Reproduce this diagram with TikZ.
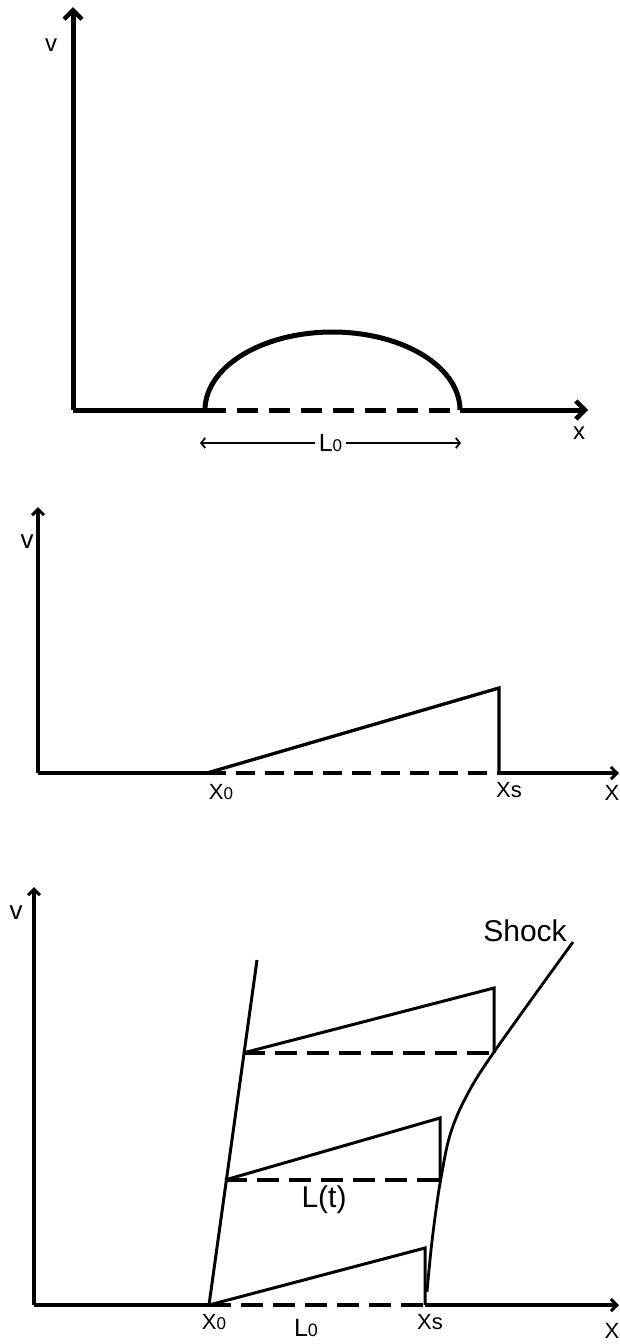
\documentclass[tikz,border=0pt]{standalone}
\usepackage{fontspec}
\setmainfont{Liberation Sans}
\usetikzlibrary{arrows.meta}

% smaller digit or letter set on the baseline after a capital
\newcommand{\lowidx}[1]{{\fontsize{17}{17}\selectfont #1}}

\begin{document}
\begin{tikzpicture}[
  x=1pt,y=-1pt,
  lbl/.style={font=\fontsize{22}{22}\selectfont,inner sep=0pt},
  axisbold/.style={line width=5pt,
    -{Straight Barb[length=9pt,width=18pt,line width=4.5pt]}},
  axisthin/.style={line width=3.6pt,
    -{Straight Barb[length=6pt,width=12pt,line width=3pt]}},
  solidbold/.style={line width=5pt},
  solidthin/.style={line width=3pt},
  gapbold/.style={line width=5pt,dash pattern=on 21pt off 11pt},
  gapthin/.style={line width=4pt,dash pattern=on 19pt off 10pt},
  gapthird/.style={line width=3.6pt,dash pattern=on 22pt off 10pt},
  dimline/.style={line width=1.8pt,{Straight Barb[length=4pt,width=10pt]}-{Straight Barb[length=4pt,width=10pt]}}
]
  \useasboundingbox (0,0) rectangle (620,1344);

  % --- first panel: initial hump
  \coordinate (oneO) at (73,410);
  \coordinate (oneL) at (205,410);
  \coordinate (oneR) at (460,410);
  \draw[axisbold] (oneO) -- (73,7);
  \draw[solidbold] (oneO) -- (oneL);
  \draw[gapbold] (oneL) -- (oneR);
  \draw[axisbold] (oneR) -- (588,410);
  \draw[solidbold] plot[domain=180:0,samples=60] ({332.5+127.5*cos(\x)},{410-78*sin(\x)});
  \node[lbl,font=\fontsize{24}{24}\selectfont] (oneV) at (51,45) {v};
  \node[lbl,font=\fontsize{24}{24}\selectfont] (oneX) at (579,433) {x};
  \coordinate (dimL) at (200,443);
  \coordinate (dimR) at (461,443);
  \draw[dimline] (dimL) -- node[fill=white,inner xsep=4pt,inner ysep=2pt,font=\fontsize{25}{25}\selectfont] (lenA) {L\lowidx{0}} (dimR);

  % --- second panel: sawtooth
  \coordinate (twoO) at (38,773);
  \coordinate (twoA) at (207,773);
  \coordinate (twoP) at (499,688);
  \coordinate (twoS) at (499,773);
  \draw[axisthin] (twoO) -- (38,507);
  \draw[solidthin,line width=3.6pt] (twoO) -- (twoA);
  \draw[gapthin] (twoA) -- (twoS);
  \draw[solidthin,line width=3.3pt] (twoA) -- (twoP) -- (twoS);
  \draw[axisthin] (twoS) -- (619,773);
  \node[lbl,font=\fontsize{26}{26}\selectfont] (twoV) at (27,542) {v};
  \node[lbl] (twoXo) at (221,792) {X\lowidx{0}};
  \node[lbl] (twoXs) at (509,790) {Xs};
  \node[lbl] (twoX) at (612,793) {X};

  % --- third panel: decay of the sawtooth
  \coordinate (thrO) at (34,1305);
  \coordinate (thrA) at (209,1305);
  \coordinate (thrS) at (425,1305);
  \coordinate (tail) at (257,960);
  \draw[axisthin] (thrO) -- (34,887);
  \draw[solidthin,line width=3.6pt] (thrO) -- (thrA);
  \draw[gapthird] (thrA) -- (thrS);
  \draw[axisthin] (thrS) -- (619,1305);
  \draw[solidthin] (thrA) -- (tail);
  % teeth
  \coordinate (botP) at (425,1248);
  \coordinate (midA) at (225,1180);
  \coordinate (midP) at (440,1118);
  \coordinate (midS) at (440,1180);
  \coordinate (topA) at (243,1053);
  \coordinate (topP) at (494,988);
  \coordinate (topS) at (494,1053);
  \draw[solidthin] (thrA) -- (botP) -- (thrS);
  \draw[solidthin] (midA) -- (midP) -- (midS);
  \draw[gapthird] (midA) -- (midS);
  \draw[solidthin] (topA) -- (topP) -- (topS);
  \draw[gapthird] (topA) -- (topS);
  % shock path
  \draw[solidthin,line width=2.8pt] plot[smooth,tension=0.6] coordinates
    {(427,1292) (431,1250) (436,1210) (441,1178) (450,1135) (466,1097) (494,1052) (573,942)};
  \node[lbl,font=\fontsize{26}{26}\selectfont] (thrV) at (16,913) {v};
  \node[lbl,font=\fontsize{30}{30}\selectfont] (shock) at (525,931) {Shock};
  \node[lbl,font=\fontsize{30}{30}\selectfont] (lenT) at (324,1200) {L(t)};
  \node[lbl] (thrXo) at (214,1322) {X\lowidx{0}};
  \node[lbl,font=\fontsize{25}{25}\selectfont] (lenB) at (306,1328) {L{\fontsize{18}{18}\selectfont 0}};
  \node[lbl] (thrXs) at (430,1322) {Xs};
  \node[lbl] (thrX) at (612,1331) {X};
\end{tikzpicture}
\end{document}
